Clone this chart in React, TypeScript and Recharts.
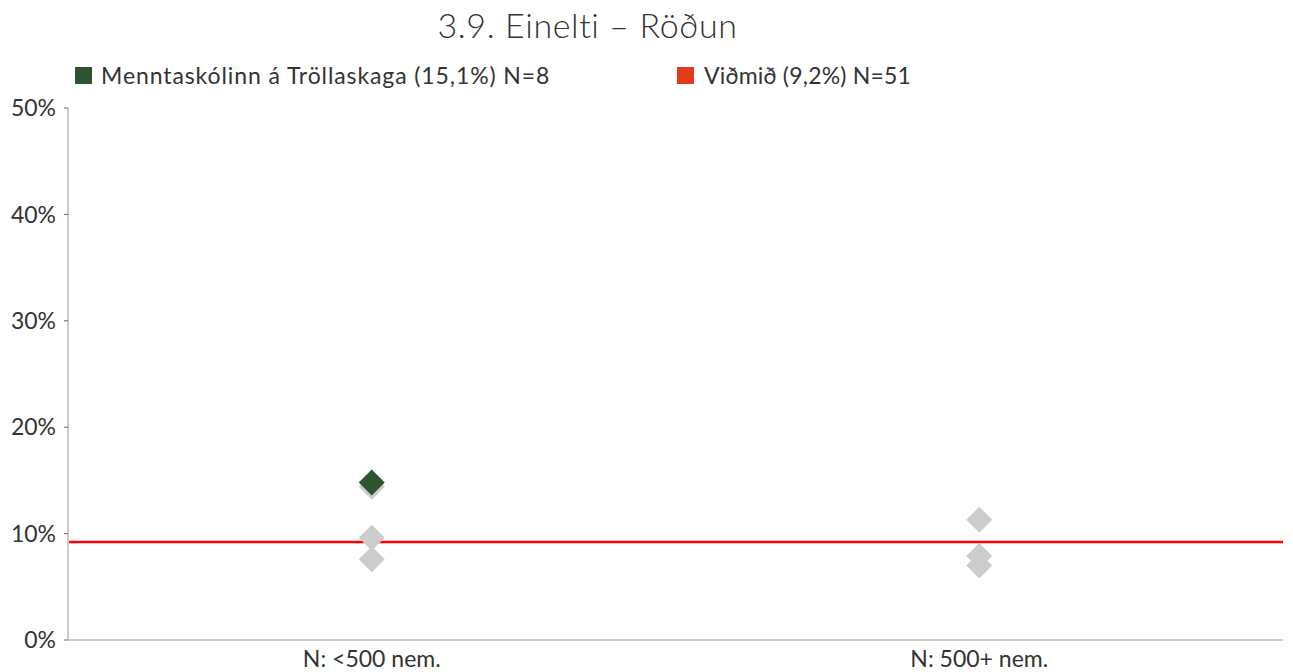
import React from "react";
import {
  ComposedChart,
  Line,
  XAxis,
  YAxis,
  ReferenceLine,
} from "recharts";

const categories = ["N: <500 nem.", "N: 500+ nem."];
const greyA = [14.4, 11.3];
const greyB = [9.6, 7.9];
const greyC = [7.6, 7.0];
const school = [14.8, null];
const benchmark = 9.2;
const yTicks = [0, 10, 20, 30, 40, 50];

const data = categories.map((cat, i) => ({
  cat,
  greyA: greyA[i],
  greyB: greyB[i],
  greyC: greyC[i],
  school: school[i],
}));

const font = "Lato, 'Open Sans', sans-serif";

const makeDiamond = (fill: string) => (props: any) => {
  const { cx, cy, value, index } = props;
  if (cx == null || cy == null || value == null) return <g key={index} />;
  const r = 13;
  return (
    <path
      key={index}
      d={`M${cx},${cy - r} L${cx + r},${cy} L${cx},${cy + r} L${cx - r},${cy} Z`}
      fill={fill}
    />
  );
};

const greyDot = makeDiamond("#cccccc");
const greenDot = makeDiamond("#2e5330");

const legendStyle: React.CSSProperties = {
  position: "absolute",
  top: 61,
  fontSize: 23,
  color: "#333",
  display: "flex",
  alignItems: "center",
  whiteSpace: "nowrap",
};

const App = () => {
  return (
    <div style={{ position: "absolute", left: 0, top: 0, width: 1293, height: 672, fontFamily: font }}>
      <div
        style={{
          position: "absolute",
          top: 1,
          left: 0,
          width: 1175,
          textAlign: "center",
          fontSize: 34,
          fontWeight: 300,
          color: "#333",
          letterSpacing: 0.6,
          lineHeight: "48px",
        }}
      >
        3.9. Einelti – Röðun
      </div>
      <div style={{ ...legendStyle, left: 75, letterSpacing: 0.9 }}>
        <span style={{ display: "inline-block", width: 17, height: 17, background: "#2e5330", marginRight: 9 }} />
        Menntaskólinn á Tröllaskaga (15,1%) N=8
      </div>
      <div style={{ ...legendStyle, left: 677, letterSpacing: 0.2 }}>
        <span style={{ display: "inline-block", width: 17, height: 17, background: "#e03c1c", marginRight: 10 }} />
        Viðmið (9,2%) N=51
      </div>
      <ComposedChart
        width={1293}
        height={672}
        data={data}
        margin={{ top: 108, right: 10, bottom: 2, left: 0 }}
      >
        <XAxis
          dataKey="cat"
          type="category"
          scale="band"
          axisLine={{ stroke: "#cccccc", strokeWidth: 2 }}
          tickLine={false}
          tick={{ fill: "#333", fontSize: 23, fontFamily: font }}
          height={30}
          tickMargin={5}
        />
        <YAxis
          domain={[0, 50]}
          ticks={yTicks}
          tickFormatter={(v) => `${v}%`}
          axisLine={{ stroke: "#cccccc", strokeWidth: 2 }}
          tickLine={{ stroke: "#666" }}
          tickSize={4}
          tick={{ fill: "#333", fontSize: 23, fontFamily: font }}
          width={68}
          tickMargin={8}
        />
        <Line dataKey="greyA" stroke="none" dot={greyDot} activeDot={false} isAnimationActive={false} />
        <Line dataKey="greyB" stroke="none" dot={greyDot} activeDot={false} isAnimationActive={false} />
        <Line dataKey="greyC" stroke="none" dot={greyDot} activeDot={false} isAnimationActive={false} />
        <ReferenceLine y={benchmark} stroke="#ff0000" strokeWidth={2.5} />
        <Line dataKey="school" stroke="none" dot={greenDot} activeDot={false} isAnimationActive={false} />
      </ComposedChart>
    </div>
  );
};

export default App;
